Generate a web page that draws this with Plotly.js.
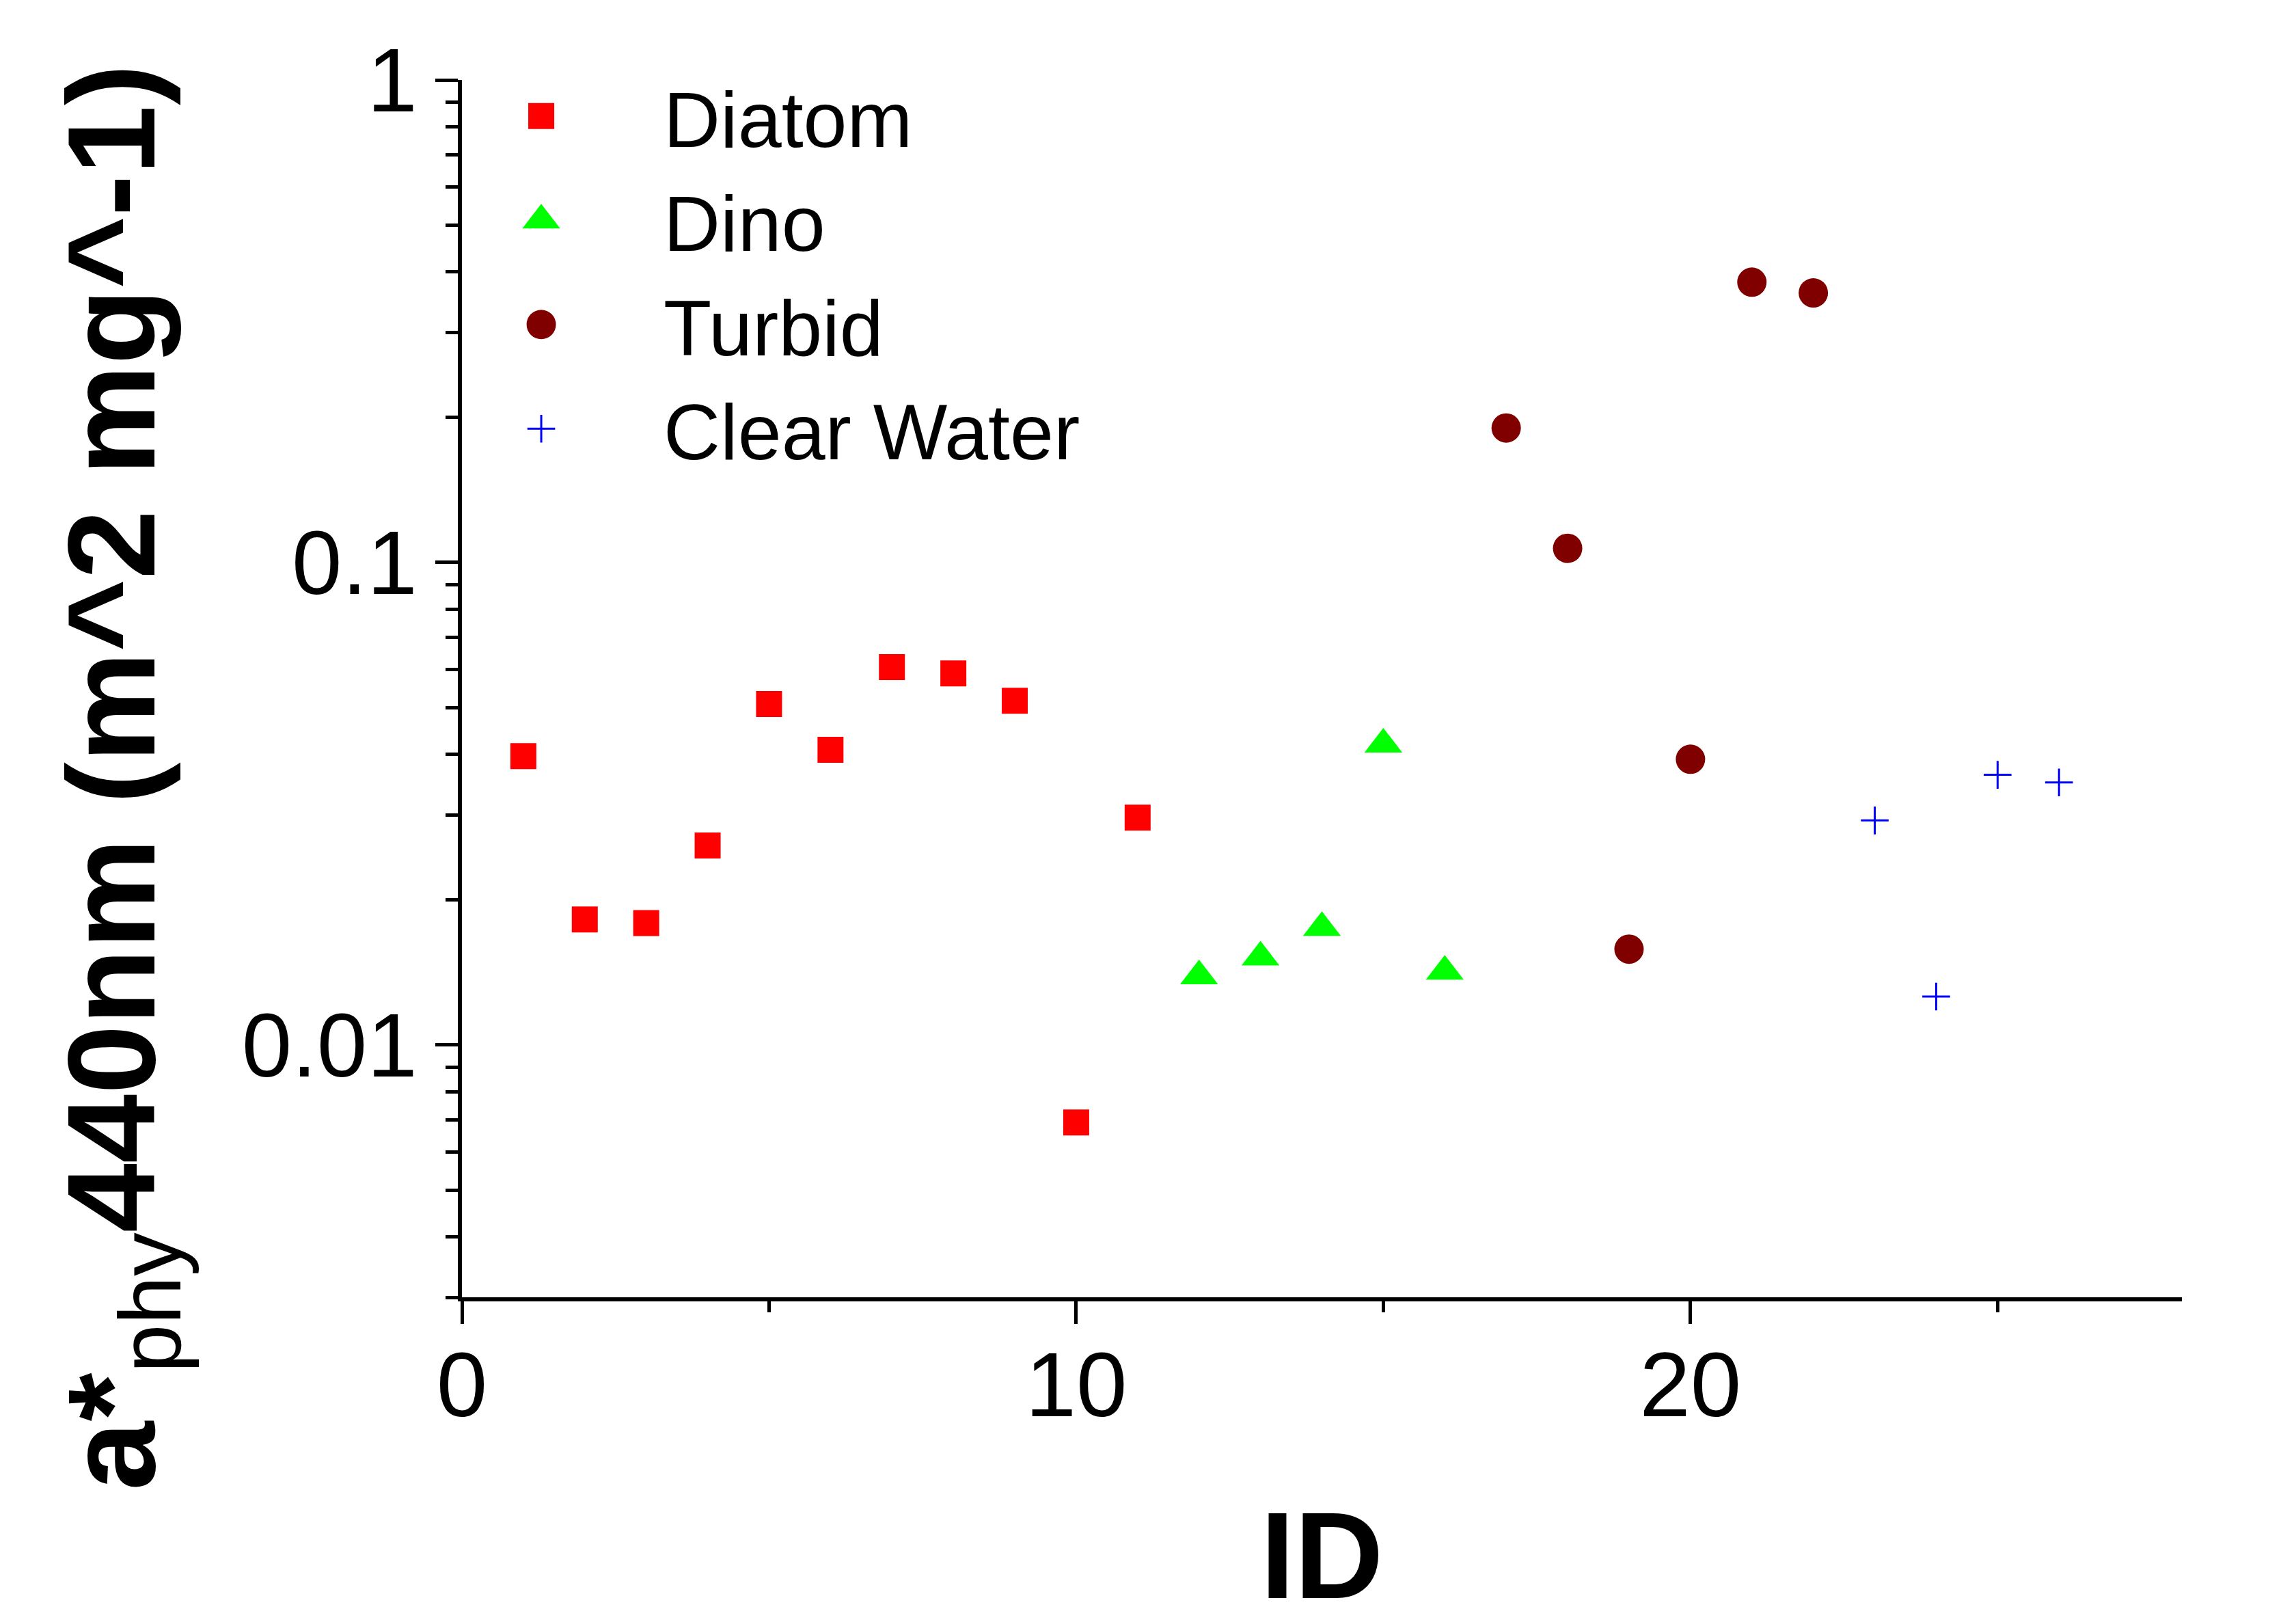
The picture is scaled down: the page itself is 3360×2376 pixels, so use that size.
<!DOCTYPE html>
<html>
<head>
<meta charset="utf-8">
<script src="https://cdn.plot.ly/plotly-3.0.1.min.js"></script>
<style>
  html, body { margin: 0; padding: 0; background: #fff; }
  #chart { width: 3360px; height: 2376px; }
</style>
</head>
<body>
<div id="chart"></div>
<script>
// values (ID vs a*phy 440nm)
var diatomId = [1, 2, 3, 4, 5, 6, 7, 8, 9, 10, 11];
var diatomVal = [0.0397, 0.0182, 0.0179, 0.0259, 0.0509, 0.0409, 0.0607, 0.0589, 0.0517, 0.00691, 0.0296];

var dinoId = [12, 13, 14, 15, 16];
var dinoVal = [0.0139, 0.0152, 0.0175, 0.0420, 0.0142];

var turbidId = [17, 18, 19, 20, 21, 22];
var turbidVal = [0.190, 0.107, 0.0158, 0.0391, 0.381, 0.362];

var clearId = [23, 24, 25, 26];
var clearVal = [0.0292, 0.0126, 0.0363, 0.0350];

var yTickVals = [0.01, 0.1, 1];
var yTickText = ["0.01", "0.1", "1"];

// minor ticks 2..9 of each decade, starting at 0.003
var yMinor = [];
[0.001, 0.01, 0.1].forEach(function (d) {
  for (var k = 2; k <= 9; k++) {
    if (d * k >= 0.003) yMinor.push(+(d * k).toPrecision(2));
  }
});

var font = "Liberation Sans, Arial, sans-serif";

var trace1 = {
  x: diatomId, y: diatomVal, name: "Diatom",
  type: "scatter", mode: "markers",
  marker: { symbol: "square", size: 38, color: "#ff0000" },
};
var trace2 = {
  x: dinoId, y: dinoVal, name: "Dino",
  type: "scatter", mode: "markers",
  marker: { symbol: "triangle-up", size: 48, color: "#00ff00" },
};
var trace3 = {
  x: turbidId, y: turbidVal, name: "Turbid",
  type: "scatter", mode: "markers",
  marker: { symbol: "circle", size: 43, color: "#800000" },
};
var trace4 = {
  x: clearId, y: clearVal, name: "Clear Water",
  type: "scatter", mode: "markers",
  marker: { symbol: "cross-thin-open", size: 29, color: "#0000ff", line: { color: "#0000ff", width: 3 } },
};

var data = [trace1, trace2, trace3, trace4];

var layout = {
  width: 3360,
  height: 2376,
  margin: { l: 676, r: 167, t: 117, b: 478 },
  paper_bgcolor: "#fff",
  plot_bgcolor: "#fff",
  font: { family: font, color: "#000" },
  showlegend: true,
  legend: {
    x: -0.025, y: 1.016, xanchor: "left", yanchor: "top",
    font: { family: font, size: 115, color: "#000" },
    itemwidth: 348,
    bgcolor: "rgba(0,0,0,0)",
  },
  xaxis: {
    range: [0, 28],
    dtick: 10,
    showgrid: false, zeroline: false,
    showline: true, linecolor: "#000", linewidth: 6,
    ticks: "outside", ticklen: 33, tickwidth: 5, tickcolor: "#000",
    ticklabelstandoff: -26,
    minor: { dtick: 5, ticks: "outside", ticklen: 16, tickwidth: 5, tickcolor: "#000", showgrid: false },
    tickfont: { family: font, size: 134, color: "#000" },
    title: { text: "ID", font: { family: font, size: 180, color: "#000", weight: "bold" }, standoff: 136 },
    automargin: false,
  },
  yaxis: {
    type: "log",
    range: [Math.log10(0.003), 0],
    tickmode: "array", tickvals: yTickVals, ticktext: yTickText,
    showgrid: false, zeroline: false,
    showline: true, linecolor: "#000", linewidth: 6,
    ticks: "outside", ticklen: 33, tickwidth: 5, tickcolor: "#000",
    minor: { tickmode: "array", tickvals: yMinor, ticks: "outside", ticklen: 18, tickwidth: 5, tickcolor: "#000", showgrid: false },
    tickfont: { family: font, size: 132, color: "#000" },
    automargin: false,
  },
  annotations: [{
    xref: "paper", yref: "paper",
    x: -0.199, y: 0.427,
    xanchor: "center", yanchor: "middle",
    textangle: -90,
    showarrow: false,
    text: "<b>a*</b><sub>phy</sub><b>440nm (m^2 mg^-1)</b>",
    font: { family: font, size: 182, color: "#000" },
  }],
};

var config = { displayModeBar: false, responsive: false, staticPlot: true };

Plotly.newPlot("chart", data, layout, config).then(function (gd) {
  // legend symbols are capped in size by plotly: scale them up to the plot markers
  var legendItems = gd.querySelectorAll(".legend .traces");
  var plotTraces = gd.querySelectorAll(".scatterlayer .trace");
  legendItems.forEach(function (item, i) {
    var ref = plotTraces[i] && plotTraces[i].querySelector("path.point");
    var sym = item.querySelector("path.scatterpts");
    if (!ref || !sym) return;
    var s = ref.getBBox().width / sym.getBBox().width;
    sym.setAttribute("transform", (sym.getAttribute("transform") || "") + " scale(" + s + ")");
    sym.style.vectorEffect = "non-scaling-stroke";
  });
});
</script>
</body>
</html>
